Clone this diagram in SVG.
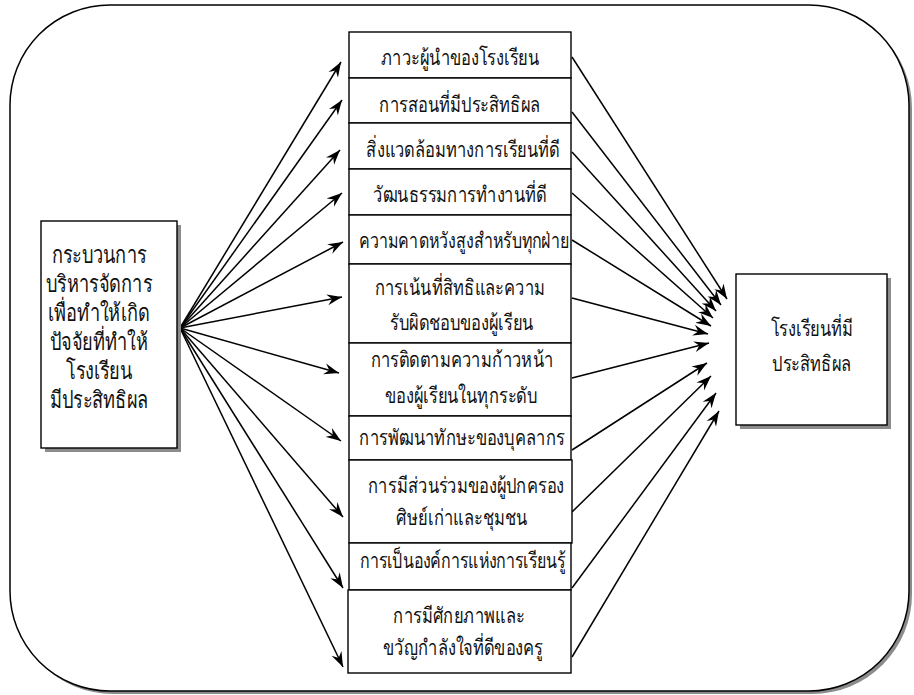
<svg xmlns="http://www.w3.org/2000/svg" width="914" height="695" viewBox="0 0 914 695">
  <style>
    .frame { fill: #ffffff; stroke: #000000; stroke-width: 1.5; }
    .shadow { fill: #8c8c8c; stroke: none; }
    .box { fill: #ffffff; stroke: #000000; stroke-width: 1.4; }
    .lbl { font-family: "Liberation Serif", "DejaVu Serif", serif; font-size: 16.5px; fill: #111111; text-anchor: middle; }
    .big { font-size: 18.2px; }
    .tight { font-size: 16px; }
    .conn { fill: none; stroke: #000000; stroke-width: 1.5; marker-end: url(#arrow); }
  </style>
  <defs>
    <marker id="arrow" markerUnits="userSpaceOnUse" markerWidth="16" markerHeight="12" refX="15" refY="6" orient="auto" viewBox="0 0 16 12">
      <path d="M0,0.5 L15,6 L0,11.5 L5,6 Z" fill="#000000"/>
    </marker>
  </defs>

  <!-- rounded outer frame with drop shadow -->
  <g id="frame">
    <path class="shadow" transform="translate(3,3)" d="M110,5 H809 A100,100 0 0 1 909,105 V591 A100,100 0 0 1 809,691 H110 A100,100 0 0 1 10,591 V105 A100,100 0 0 1 110,5 Z"/>
    <path class="frame" d="M110,5 H809 A100,100 0 0 1 909,105 V591 A100,100 0 0 1 809,691 H110 A100,100 0 0 1 10,591 V105 A100,100 0 0 1 110,5 Z"/>
  </g>

  <!-- connectors -->
  <g id="connectors">
    <line class="conn" x1="180" y1="328" x2="341" y2="62"/>
    <line class="conn" x1="180" y1="328" x2="342" y2="100"/>
    <line class="conn" x1="180" y1="328" x2="340" y2="150"/>
    <line class="conn" x1="180" y1="328" x2="342" y2="193"/>
    <line class="conn" x1="180" y1="328" x2="343" y2="242"/>
    <line class="conn" x1="180" y1="328" x2="342" y2="297"/>
    <line class="conn" x1="180" y1="328" x2="339" y2="373"/>
    <line class="conn" x1="180" y1="328" x2="341" y2="441"/>
    <line class="conn" x1="180" y1="328" x2="343" y2="517"/>
    <line class="conn" x1="180" y1="328" x2="343" y2="588"/>
    <line class="conn" x1="180" y1="328" x2="343" y2="667"/>

    <line class="conn" x1="572" y1="57" x2="727" y2="299"/>
    <line class="conn" x1="572" y1="112" x2="721" y2="305"/>
    <line class="conn" x1="572" y1="152" x2="716" y2="311"/>
    <line class="conn" x1="572" y1="193" x2="713" y2="318"/>
    <line class="conn" x1="572" y1="240" x2="711" y2="326"/>
    <line class="conn" x1="572" y1="298" x2="708" y2="334"/>
    <line class="conn" x1="572" y1="378" x2="709" y2="343"/>
    <line class="conn" x1="572" y1="450" x2="707" y2="363"/>
    <line class="conn" x1="572" y1="512" x2="711" y2="376"/>
    <line class="conn" x1="572" y1="588" x2="716" y2="393"/>
    <line class="conn" x1="572" y1="657" x2="719" y2="411"/>
  </g>

  <!-- source process -->
  <g id="process">
    <rect class="shadow" x="45" y="225" width="136" height="227"/>
    <rect class="box" x="41" y="221" width="136" height="227"/>
    <text class="lbl big" transform="translate(99,263) scale(1,1.3)">กระบวนการ</text>
    <text class="lbl big" transform="translate(99,292) scale(1,1.3)">บริหารจัดการ</text>
    <text class="lbl big" transform="translate(99,321) scale(1,1.3)">เพื่อทำให้เกิด</text>
    <text class="lbl big" transform="translate(99,350) scale(1,1.3)">ปัจจัยที่ทำให้</text>
    <text class="lbl big" transform="translate(99,379) scale(1,1.3)">โรงเรียน</text>
    <text class="lbl big" transform="translate(99,408) scale(1,1.3)">มีประสิทธิผล</text>
  </g>

  <!-- factors -->
  <g id="f1">
    <rect class="box" x="349" y="32" width="222" height="46"/>
    <text class="lbl" transform="translate(460,65) scale(1,1.3)">ภาวะผู้นำของโรงเรียน</text>
  </g>
  <g id="f2">
    <rect class="box" x="349" y="78" width="222" height="45"/>
    <text class="lbl" transform="translate(460,112) scale(1,1.3)">การสอนที่มีประสิทธิผล</text>
  </g>
  <g id="f3">
    <rect class="box" x="349" y="123" width="222" height="46"/>
    <text class="lbl" transform="translate(463,157) scale(1,1.3)">สิ่งแวดล้อมทางการเรียนที่ดี</text>
  </g>
  <g id="f4">
    <rect class="box" x="349" y="169" width="222" height="46"/>
    <text class="lbl" transform="translate(460,202) scale(1,1.3)">วัฒนธรรมการทำงานที่ดี</text>
  </g>
  <g id="f5">
    <rect class="box" x="349" y="215" width="222" height="49"/>
    <text class="lbl tight" transform="translate(464,248) scale(1,1.34)">ความคาดหวังสูงสำหรับทุกฝ่าย</text>
  </g>
  <g id="f6">
    <rect class="box" x="349" y="264" width="222" height="79"/>
    <text class="lbl" transform="translate(460,295) scale(1,1.3)">การเน้นที่สิทธิและความ</text>
    <text class="lbl" transform="translate(462,330) scale(1,1.3)">รับผิดชอบของผู้เรียน</text>
  </g>
  <g id="f7">
    <rect class="box" x="349" y="343" width="222" height="73"/>
    <text class="lbl" transform="translate(462,367) scale(1,1.3)">การติดตามความก้าวหน้า</text>
    <text class="lbl" transform="translate(461,403) scale(1,1.3)">ของผู้เรียนในทุกระดับ</text>
  </g>
  <g id="f8">
    <rect class="box" x="349" y="416" width="222" height="44"/>
    <text class="lbl" transform="translate(462,445) scale(1,1.3)">การพัฒนาทักษะของบุคลากร</text>
  </g>
  <g id="f9">
    <rect class="box" x="349" y="460" width="223" height="83"/>
    <text class="lbl" transform="translate(466,493) scale(1,1.3)">การมีส่วนร่วมของผู้ปกครอง</text>
    <text class="lbl" transform="translate(462,525) scale(1,1.3)">ศิษย์เก่าและชุมชน</text>
  </g>
  <g id="f10">
    <rect class="box" x="349" y="543" width="222" height="47"/>
    <text class="lbl tight" transform="translate(463,568) scale(1,1.34)">การเป็นองค์การแห่งการเรียนรู้</text>
  </g>
  <g id="f11">
    <rect class="box" x="348" y="590" width="223" height="83"/>
    <text class="lbl" transform="translate(459,623) scale(1,1.3)">การมีศักยภาพและ</text>
    <text class="lbl" transform="translate(463,655) scale(1,1.3)">ขวัญกำลังใจที่ดีของครู</text>
  </g>

  <!-- outcome -->
  <g id="outcome">
    <rect class="shadow" x="740" y="278" width="151" height="151"/>
    <rect class="box" x="736" y="274" width="151" height="151"/>
    <text class="lbl" transform="translate(812,336) scale(1,1.3)">โรงเรียนที่มี</text>
    <text class="lbl" transform="translate(812,371) scale(1,1.3)">ประสิทธิผล</text>
  </g>
</svg>
